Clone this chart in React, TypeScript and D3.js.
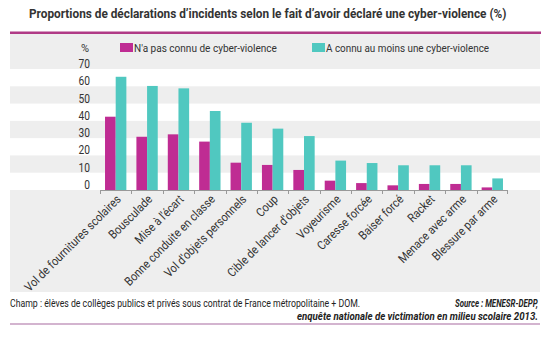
import React, { useLayoutEffect, useRef, useState } from "react";
import * as d3 from "d3";

const categories = [
  "Vol de fournitures scolaires",
  "Bousculade",
  "Mise à l'écart",
  "Bonne conduite en classe",
  "Vol d'objets personnels",
  "Coup",
  "Cible de lancer d'objets",
  "Voyeurisme",
  "Caresse forcée",
  "Baiser forcé",
  "Racket",
  "Menace avec arme",
  "Blessure par arme",
];
const seriesNames = ["N'a pas connu de cyber-violence", "A connu au moins une cyber-violence"];
const noCyber = [42.4, 30.8, 32.2, 28.0, 15.8, 14.5, 11.6, 5.4, 4.0, 2.7, 3.5, 3.5, 1.5];
const withCyber = [65.5, 60.2, 58.8, 45.7, 38.9, 35.5, 31.2, 17.0, 15.6, 14.3, 14.3, 14.3, 6.7];
const yTicks = [0, 10, 20, 30, 40, 50, 60, 70];
const title = "Proportions de déclarations d\u2019incidents selon le fait d\u2019avoir déclaré une cyber-violence (%)";
const footLeft = "Champ : élèves de collèges publics et privés sous contrat de France métropolitaine + DOM.";
const footRight1 = "Source : MENESR-DEPP,";
const footRight2 = "enquête nationale de victimation en milieu scolaire 2013.";

const MAGENTA = "#bf2c93";
const TEAL = "#50c8c0";
const PANEL = "#eeeeee";
const FONT = "Roboto, 'DejaVu Sans', sans-serif";

type FitProps = {
  x: number;
  y: number;
  width: number;
  anchor?: "start" | "end";
  children: string;
  [k: string]: any;
};

function FitText({ x, y, width, anchor = "start", children, ...rest }: FitProps) {
  const ref = useRef<SVGTextElement>(null);
  const [s, setS] = useState(0.8);
  useLayoutEffect(() => {
    if (ref.current) {
      const len = ref.current.getComputedTextLength();
      if (len > 0) setS(width / len);
    }
  }, [width, children]);
  return (
    <text ref={ref} transform={`translate(${x},${y}) scale(${s},1)`} textAnchor={anchor} {...rest}>
      {children}
    </text>
  );
}

export default function App() {
  const W = 550, H = 337;
  const x = d3.scaleBand<string>().domain(categories).range([100, 508]).paddingInner(0).paddingOuter(0);
  const y = d3.scaleLinear().domain([0, 70]).range([190, 69]);
  const bw = x.bandwidth();
  const barW = bw * 0.34;
  const off = bw * 0.16;
  const bands = d3.range(0, 70, 10);

  return (
    <svg width={W} height={H} style={{ position: "absolute", left: 0, top: 0 }} fontFamily={FONT}>
      <rect x={0} y={0} width={W} height={H} fill="#ffffff" />
      <FitText x={29} y={18} width={478} fontSize={13} fontWeight="bold" fill="#333">{title}</FitText>
      <rect x={10} y={33} width={530} height={259} fill={PANEL} />
      <rect x={10} y={31.5} width={531} height={2.5} fill="#b03a86" />
      {bands.map((b, i) =>
        i % 2 === 0 ? (
          <rect key={b} x={10} y={y(b + 10)} width={530} height={y(b) - y(b + 10)} fill="#ffffff" />
        ) : null
      )}
      {/* legend */}
      <text x={85} y={52} fontSize={11} fill="#333" textAnchor="middle">%</text>
      <rect x={120} y={43} width={13} height={9} fill={MAGENTA} />
      <FitText x={134} y={52} width={143} fontSize={11.5} fill="#333">{seriesNames[0]}</FitText>
      <rect x={312} y={43} width={13} height={9} fill={TEAL} />
      <FitText x={326} y={52} width={163} fontSize={11.5} fill="#333">{seriesNames[1]}</FitText>
      {/* y tick labels */}
      {yTicks.map((t) => (
        <text key={t} transform={`translate(90,${y(t) - 1}) scale(0.85,1)`} fontSize={12} fill="#333" textAnchor="end">
          {t}
        </text>
      ))}
      {/* bars */}
      {categories.map((c, i) => (
        <g key={c}>
          <rect x={(x(c) as number) + off} y={y(noCyber[i])} width={barW} height={y(0) - y(noCyber[i])} fill={MAGENTA} />
          <rect x={(x(c) as number) + off + barW} y={y(withCyber[i])} width={barW} height={y(0) - y(withCyber[i])} fill={TEAL} />
        </g>
      ))}
      {/* x axis */}
      <line x1={100} x2={508} y1={190.5} y2={190.5} stroke="#999" strokeWidth={1} />
      {categories.map((c, i) => (
        <line key={"t" + i} x1={Math.round(x(c) as number) + 0.5} x2={Math.round(x(c) as number) + 0.5} y1={190} y2={194} stroke="#999" />
      ))}
      <line x1={507.5} x2={507.5} y1={190} y2={194} stroke="#999" />
      {categories.map((c) => {
        const cx = (x(c) as number) + bw / 2 + 3;
        return (
          <text key={"l" + c} transform={`translate(${cx},197) rotate(-45) scale(0.88,1)`} fontSize={12.2} fill="#333" textAnchor="end" dy="0.35em">
            {c}
          </text>
        );
      })}
      {/* footer */}
      <FitText x={10} y={307} width={350} fontSize={10} fill="#222">{footLeft}</FitText>
      <FitText x={538} y={307} width={83} anchor="end" fontSize={10} fill="#222" fontStyle="italic" fontWeight="bold">{footRight1}</FitText>
      <FitText x={538} y={320} width={241} anchor="end" fontSize={10} fill="#222" fontStyle="italic" fontWeight="bold">{footRight2}</FitText>
      <rect x={10} y={323.5} width={530} height={1} fill="#a86aa0" />
    </svg>
  );
}
